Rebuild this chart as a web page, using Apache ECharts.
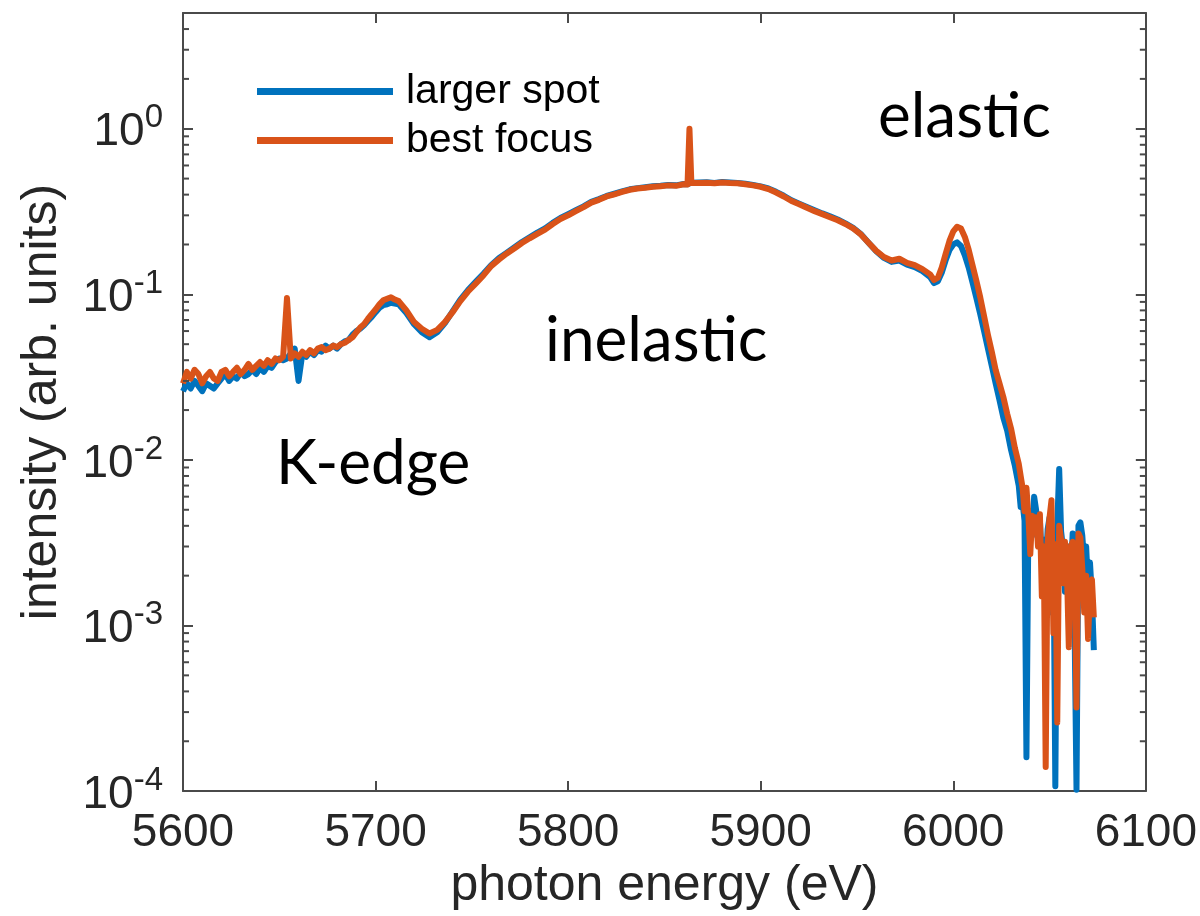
<!DOCTYPE html>
<html>
<head>
<meta charset="utf-8">
<script src="https://cdn.jsdelivr.net/npm/echarts@6/dist/echarts.min.js"></script>
<style>
  html, body { margin: 0; padding: 0; background: #fff; }
  #chart { width: 1200px; height: 916px; }
</style>
</head>
<body>
<div id="chart"></div>
<script>
// Photon energy grid (eV)
const energy = [
  5600,5602,5604,5606,5608,5610,5612,5614,5616,5618,5620,5622,5624,5626,5628,5630,5632,5634,5636,5638,
  5640,5642,5644,5646,5648,5650,5652,5654,5656,5658,5660,5662,5664,5666,5668,5670,5672,5674,5676,5678,
  5680,5682,5684,5686,5688,5690,5692,5694,5696,5698,5700,5702,5704,5706,5708,5710,5712,
  5716,5720,5724,5728,5732,5736,5740,5744,5748,5752,5756,5760,5764,5768,5772,5776,5780,5784,5788,5792,
  5796,5800,5804,5808,5812,5816,5820,5824,5828,5832,5836,5840,5844,5848,5852,5856,5860,
  5862,5863,5864,
  5868,5872,5876,5880,5884,5888,5892,5896,5900,5904,5908,5912,5916,5920,5924,5928,5932,5936,5940,5944,
  5948,5952,5956,5960,5964,5968,5972,5976,5980,5984,5988,
  5990,5992,5994,5996,5998,6000,6002,6004,6006,6008,6010,6012,6014,6016,6018,6020,6022,6024,6026,6028,
  6030,6032,6034,
  6035,6036,6037,6038,6039,6040,6041,6042,6043,6044,6045,6046,6047,6048,6049,6050,6051,6052,6053,6054,
  6055,6056,6057,6058,6059,6060,6061,6062,6063,6064,6065,6066,6067,6068,6069,6070,6071,6072,6073
];

// Intensity, larger spot (arb. units)
const largerSpot = [
  0.026,0.029,0.027,0.030,0.028,0.026,0.029,0.028,0.027,0.029,0.031,0.033,0.030,0.032,0.031,0.034,0.032,0.033,0.035,0.033,
  0.036,0.034,0.037,0.036,0.039,0.041,0.040,0.041,0.044,0.047,0.030,0.044,0.042,0.045,0.043,0.046,0.045,0.049,0.047,0.049,
  0.047,0.050,0.052,0.053,0.057,0.060,0.062,0.065,0.069,0.073,0.078,0.083,0.086,0.087,0.089,0.088,0.087,
  0.077,0.066,0.059,0.055,0.059,0.067,0.079,0.093,0.106,0.119,0.133,0.150,0.165,0.178,0.192,0.207,0.221,0.236,0.250,0.270,
  0.289,0.305,0.322,0.340,0.362,0.376,0.393,0.405,0.418,0.431,0.438,0.443,0.449,0.452,0.457,0.455,0.464,
  0.462,0.466,0.472,
  0.473,0.475,0.471,0.477,0.473,0.470,0.465,0.458,0.449,0.436,0.416,0.394,0.370,0.353,0.337,0.322,0.308,0.296,0.283,0.268,
  0.252,0.231,0.205,0.182,0.166,0.157,0.160,0.151,0.146,0.138,0.127,
  0.117,0.120,0.135,0.160,0.185,0.200,0.206,0.196,0.172,0.145,0.118,0.095,0.076,0.060,0.047,0.037,0.029,0.023,0.018,0.0150,
  0.0115,0.0092,0.0070,
  0.0052,0.0055,0.0043,0.00016,0.0040,0.0049,0.0035,0.0060,0.0050,0.0038,0.0043,0.0025,0.0033,0.0021,0.0038,0.0045,0.0012,0.0036,0.000107,0.0040,
  0.0088,0.0037,0.0029,0.0016,0.0026,0.0030,0.0019,0.0036,0.00097,0.000102,0.0040,0.0042,0.0035,0.0024,0.0030,0.0017,0.0024,0.0015,0.00071
];

// Intensity, best focus (arb. units)
const bestFocus = [
  0.029,0.034,0.031,0.035,0.033,0.029,0.032,0.034,0.031,0.030,0.034,0.035,0.032,0.034,0.036,0.033,0.035,0.038,0.035,0.037,
  0.039,0.037,0.040,0.038,0.041,0.040,0.042,0.095,0.041,0.044,0.042,0.045,0.043,0.046,0.044,0.047,0.048,0.046,0.047,0.049,
  0.048,0.050,0.051,0.053,0.055,0.059,0.063,0.066,0.071,0.076,0.081,0.087,0.092,0.094,0.096,0.093,0.091,
  0.080,0.068,0.062,0.058,0.061,0.068,0.078,0.091,0.104,0.116,0.130,0.148,0.162,0.176,0.189,0.204,0.218,0.232,0.246,0.266,
  0.285,0.300,0.318,0.336,0.358,0.372,0.390,0.402,0.415,0.428,0.436,0.440,0.446,0.450,0.455,0.452,0.462,
  0.460,1.0,0.470,
  0.470,0.472,0.468,0.474,0.470,0.468,0.462,0.455,0.446,0.432,0.412,0.390,0.366,0.350,0.333,0.318,0.305,0.292,0.280,0.266,
  0.250,0.230,0.205,0.183,0.168,0.160,0.164,0.155,0.150,0.142,0.132,
  0.122,0.126,0.145,0.175,0.210,0.240,0.256,0.250,0.222,0.186,0.150,0.121,0.096,0.074,0.057,0.045,0.035,0.029,0.024,0.019,
  0.0155,0.0118,0.0095,
  0.0080,0.0068,0.0049,0.0068,0.0046,0.0027,0.0046,0.0040,0.0045,0.0030,0.0047,0.0015,0.0030,0.00014,0.0032,0.0045,0.0057,0.0009,0.0031,0.00026,
  0.0040,0.0033,0.0018,0.0032,0.0022,0.00074,0.0030,0.0032,0.0024,0.00032,0.0036,0.0034,0.0022,0.0012,0.0020,0.00083,0.0016,0.0019,0.00112
];

const seriesNames = ['larger spot', 'best focus'];
const xTicks = [5600, 5700, 5800, 5900, 6000, 6100];
// Minor ticks of the logarithmic intensity axis
const minorTicks = [];
[-4, -3, -2, -1, 0].forEach(function (e) {
  for (let m = 2; m <= 9; m++) {
    const v = m * Math.pow(10, e);
    if (v < 5) minorTicks.push(v);
  }
});

const FONT = '"Liberation Sans", Arial, Helvetica, sans-serif';
const NOTE_FONT = 'Lato, "Open Sans", sans-serif';
const INK = '#262626';
const BOX = '#4a4a4a';

const chart = echarts.init(document.getElementById('chart'), null, { renderer: 'canvas' });

function pairs(vals) {
  return energy.map(function (e, i) { return [e, vals[i]]; });
}

function powerLabel(v) {
  const p = Math.log10(v);
  const e = Math.round(p);
  if (Math.abs(p - e) > 1e-6) return '';
  return '{b|10}{sup|' + e + '}';
}

const axisLineStyle = { show: true, onZero: false, lineStyle: { color: BOX, width: 2 } };
const majorTick = { show: true, inside: true, length: 10, lineStyle: { color: BOX, width: 2 } };

const option = {
  backgroundColor: '#ffffff',
  animation: false,
  grid: { left: 183, right: 54, top: 13, bottom: 121, containLabel: false },
  legend: {
    data: seriesNames,
    orient: 'vertical',
    left: 252,
    top: 66,
    itemWidth: 136,
    itemHeight: 7,
    itemGap: 8,
    icon: 'rect',
    textStyle: { fontFamily: FONT, fontSize: 41, color: '#000', padding: [0, 0, 0, 8] }
  },
  xAxis: [
    {
      type: 'value', min: 5600, max: 6100, interval: 100, position: 'bottom',
      axisLine: axisLineStyle, axisTick: majorTick, splitLine: { show: false },
      axisLabel: {
        fontFamily: FONT, fontSize: 46, color: INK, margin: 19,
        formatter: function (v) { return xTicks.indexOf(v) >= 0 ? String(v) : ''; }
      },
      name: 'photon energy (eV)', nameLocation: 'middle', nameGap: 62,
      nameTextStyle: { fontFamily: FONT, fontSize: 50, color: INK }
    },
    {
      type: 'value', min: 5600, max: 6100, interval: 100, position: 'top',
      axisLine: axisLineStyle, axisTick: majorTick, axisLabel: { show: false }, splitLine: { show: false }
    }
  ],
  yAxis: [
    {
      type: 'log', logBase: 10, min: 1e-4, max: 5, position: 'left',
      axisLine: axisLineStyle, axisTick: majorTick, splitLine: { show: false },
      minorTick: { show: false }, minorSplitLine: { show: false },
      axisLabel: {
        color: INK, margin: 20, showMaxLabel: false,
        formatter: powerLabel,
        rich: {
          b: { fontFamily: FONT, fontSize: 46, color: INK, lineHeight: 54, verticalAlign: 'bottom' },
          sup: { fontFamily: FONT, fontSize: 33, color: INK, lineHeight: 33, verticalAlign: 'top' }
        }
      },
      name: 'intensity (arb. units)', nameLocation: 'middle', nameGap: 116,
      nameTextStyle: { fontFamily: FONT, fontSize: 50, color: INK }
    },
    {
      type: 'log', logBase: 10, min: 1e-4, max: 5, position: 'right',
      axisLine: axisLineStyle, axisTick: majorTick, axisLabel: { show: false }, splitLine: { show: false }
    }
  ],
  series: [
    {
      name: seriesNames[0], type: 'line', data: pairs(largerSpot),
      showSymbol: false, symbol: 'none', color: '#0072BD',
      lineStyle: { width: 6, color: '#0072BD', join: 'round' }, z: 3
    },
    {
      name: seriesNames[1], type: 'line', data: pairs(bestFocus),
      showSymbol: false, symbol: 'none', color: '#D95319',
      lineStyle: { width: 6, color: '#D95319', join: 'round' }, z: 4
    },
    {
      // minor ticks on the left and right edges of the log axis
      type: 'custom', silent: true, z: 5,
      data: minorTicks.map(function (v) { return [v]; }),
      encode: { y: 0 },
      renderItem: function (params, api) {
        const v = api.value(0);
        const l = api.coord([5600, v]);
        const r = api.coord([6100, v]);
        const st = { stroke: BOX, lineWidth: 2 };
        return {
          type: 'group',
          children: [
            { type: 'line', shape: { x1: l[0], y1: l[1], x2: l[0] + 6, y2: l[1] }, style: st },
            { type: 'line', shape: { x1: r[0], y1: r[1], x2: r[0] - 6, y2: r[1] }, style: st }
          ]
        };
      }
    }
  ],
  graphic: [
    { type: 'text', left: 878, top: 86, style: { text: 'elastic', fontFamily: NOTE_FONT, fontSize: 62, fill: '#000' } },
    { type: 'text', left: 545, top: 310, style: { text: 'inelastic', fontFamily: NOTE_FONT, fontSize: 62, fill: '#000' } },
    { type: 'text', left: 276, top: 433, style: { text: 'K-edge', fontFamily: NOTE_FONT, fontSize: 62, fill: '#000' } }
  ]
};

chart.setOption(option);
</script>
</body>
</html>
